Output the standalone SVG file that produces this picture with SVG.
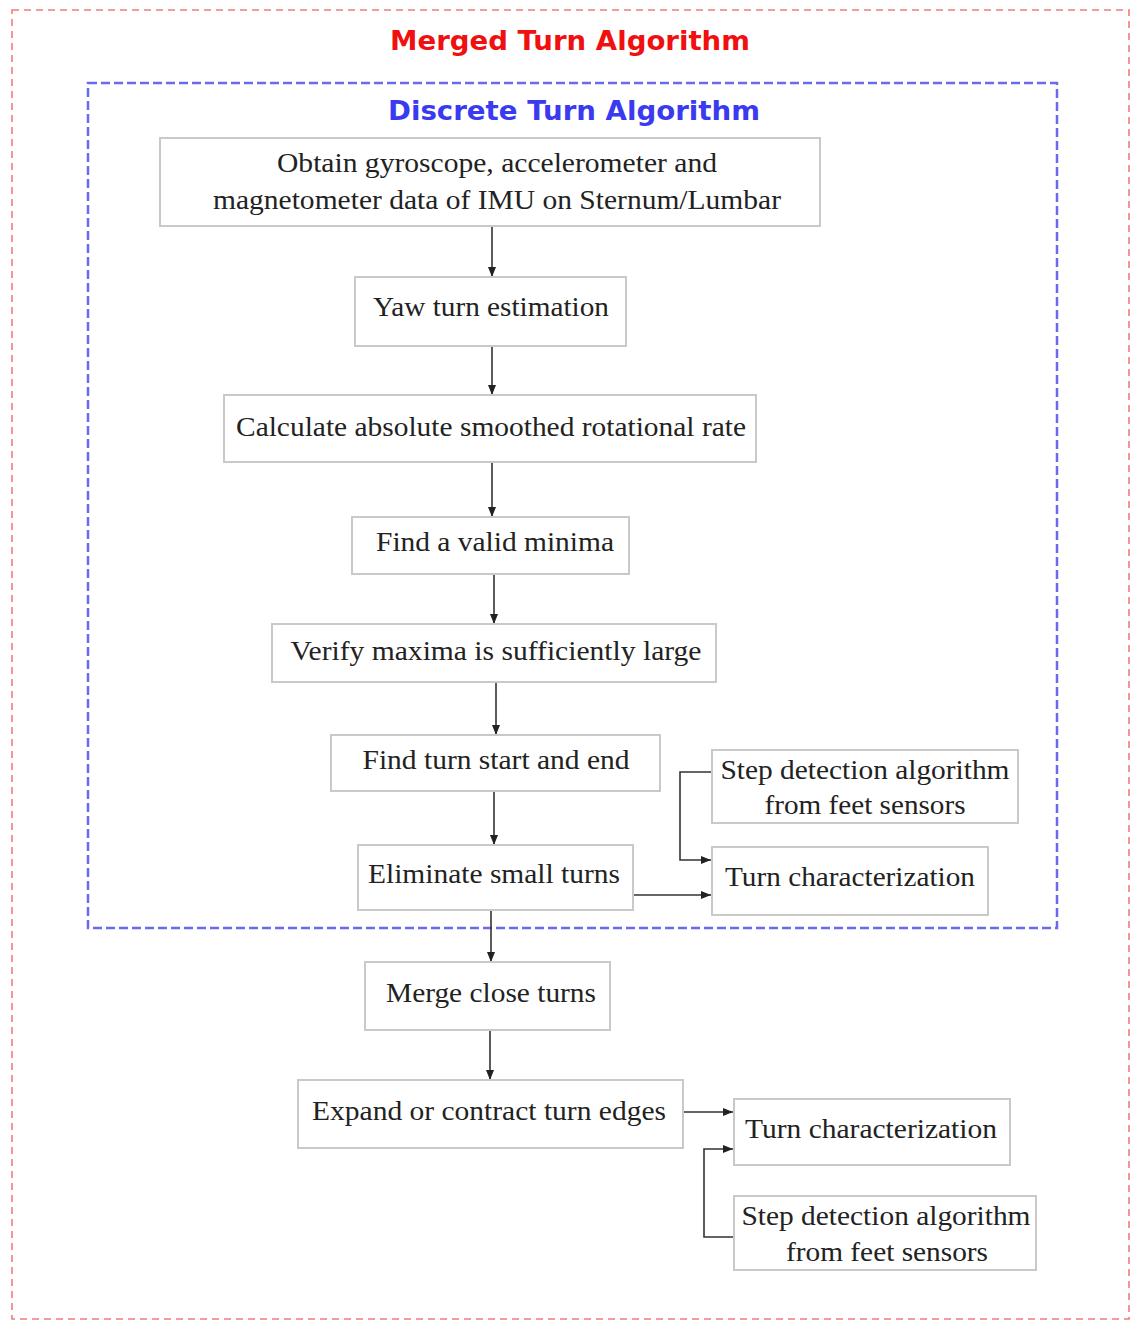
<svg xmlns="http://www.w3.org/2000/svg" width="1132" height="1321" viewBox="0 0 1132 1321">
<defs>
<marker id="ah" markerWidth="10" markerHeight="8" refX="10" refY="4" orient="auto" markerUnits="userSpaceOnUse">
<path d="M0,0 L10,4 L0,8 z" fill="#222"/>
</marker>
<style>
.box{fill:#fff;stroke:#c9c9c9;stroke-width:2}
.t{font-family:"Liberation Serif","Times New Roman",serif;font-size:28px;fill:#222;text-anchor:middle}
.c{fill:none;stroke:#333;stroke-width:1.6;marker-end:url(#ah)}
.title{font-family:"DejaVu Sans","Liberation Sans",sans-serif;font-weight:bold;font-size:26px;text-anchor:middle}
</style>
</defs>
<rect width="1132" height="1321" fill="#fff"/>
<g id="merged-frame">
<rect x="12" y="10" width="1117" height="1309" fill="none" stroke="#f07c7c" stroke-width="1.6" stroke-dasharray="7,5"/>
<text class="title" x="570" y="50" fill="#f01010" textLength="360" lengthAdjust="spacingAndGlyphs">Merged Turn Algorithm</text>
</g>
<g id="discrete-frame">
<rect x="88" y="83" width="969" height="845" fill="none" stroke="#6a6af0" stroke-width="2.5" stroke-dasharray="9,4"/>
<text class="title" x="574" y="120" fill="#3a3af0" textLength="372" lengthAdjust="spacingAndGlyphs">Discrete Turn Algorithm</text>
</g>
<g id="connectors">
<path class="c" d="M492,226 V277"/>
<path class="c" d="M492,346 V395"/>
<path class="c" d="M492,462 V517"/>
<path class="c" d="M494,574 V624"/>
<path class="c" d="M496,682 V735"/>
<path class="c" d="M494,791 V845"/>
<path class="c" d="M491,910 V962"/>
<path class="c" d="M490,1030 V1080"/>
<path class="c" d="M633,895 H711"/>
<path class="c" d="M712,772 H680 V860 H711"/>
<path class="c" d="M683,1112 H733"/>
<path class="c" d="M734,1237 H704 V1149 H733"/>
</g>
<g id="n-obtain">
<rect class="box" x="160" y="138" width="660" height="88"/>
<text class="t" x="497" y="172" textLength="440" lengthAdjust="spacingAndGlyphs">Obtain gyroscope, accelerometer and</text>
<text class="t" x="497" y="209" textLength="568" lengthAdjust="spacingAndGlyphs">magnetometer data of IMU on Sternum/Lumbar</text>
</g>
<g id="n-yaw">
<rect class="box" x="355" y="277" width="271" height="69"/>
<text class="t" x="491" y="316" textLength="236" lengthAdjust="spacingAndGlyphs">Yaw turn estimation</text>
</g>
<g id="n-calc">
<rect class="box" x="224" y="395" width="532" height="67"/>
<text class="t" x="491" y="436" textLength="510" lengthAdjust="spacingAndGlyphs">Calculate absolute smoothed rotational rate</text>
</g>
<g id="n-minima">
<rect class="box" x="352" y="517" width="277" height="57"/>
<text class="t" x="495" y="551" textLength="238" lengthAdjust="spacingAndGlyphs">Find a valid minima</text>
</g>
<g id="n-maxima">
<rect class="box" x="272" y="624" width="444" height="58"/>
<text class="t" x="496" y="660" textLength="411" lengthAdjust="spacingAndGlyphs">Verify maxima is sufficiently large</text>
</g>
<g id="n-startend">
<rect class="box" x="331" y="735" width="329" height="56"/>
<text class="t" x="496" y="769" textLength="267" lengthAdjust="spacingAndGlyphs">Find turn start and end</text>
</g>
<g id="n-eliminate">
<rect class="box" x="358" y="845" width="275" height="65"/>
<text class="t" x="494" y="883" textLength="252" lengthAdjust="spacingAndGlyphs">Eliminate small turns</text>
</g>
<g id="n-step1">
<rect class="box" x="712" y="750" width="306" height="73"/>
<text class="t" x="865" y="779" textLength="289" lengthAdjust="spacingAndGlyphs">Step detection algorithm</text>
<text class="t" x="865" y="814" textLength="201" lengthAdjust="spacingAndGlyphs">from feet sensors</text>
</g>
<g id="n-turnchar1">
<rect class="box" x="712" y="847" width="276" height="68"/>
<text class="t" x="850" y="886" textLength="250" lengthAdjust="spacingAndGlyphs">Turn characterization</text>
</g>
<g id="n-merge">
<rect class="box" x="365" y="962" width="245" height="68"/>
<text class="t" x="491" y="1002" textLength="210" lengthAdjust="spacingAndGlyphs">Merge close turns</text>
</g>
<g id="n-expand">
<rect class="box" x="298" y="1080" width="385" height="68"/>
<text class="t" x="489" y="1120" textLength="354" lengthAdjust="spacingAndGlyphs">Expand or contract turn edges</text>
</g>
<g id="n-turnchar2">
<rect class="box" x="734" y="1099" width="276" height="66"/>
<text class="t" x="871" y="1138" textLength="252" lengthAdjust="spacingAndGlyphs">Turn characterization</text>
</g>
<g id="n-step2">
<rect class="box" x="734" y="1196" width="302" height="74"/>
<text class="t" x="886" y="1225" textLength="289" lengthAdjust="spacingAndGlyphs">Step detection algorithm</text>
<text class="t" x="887" y="1261" textLength="202" lengthAdjust="spacingAndGlyphs">from feet sensors</text>
</g>
</svg>
